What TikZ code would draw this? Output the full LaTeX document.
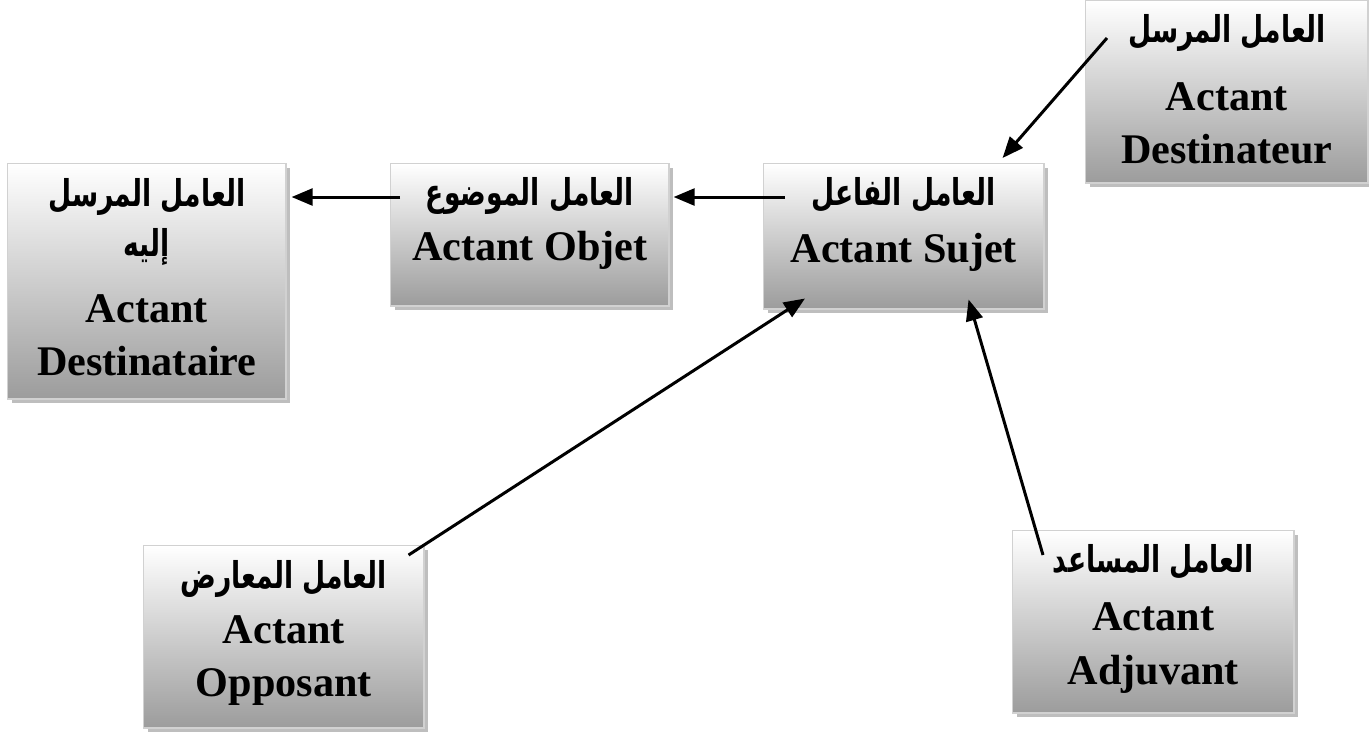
\documentclass[tikz,border=0pt]{standalone}
\usepackage{fontspec}
\setmainfont{Liberation Serif}
\newfontfamily\arabicfont[Script=Arabic, FakeStretch=0.72]{DejaVu Sans}
\TeXXeTstate=1
\usetikzlibrary{arrows.meta,shadows}
\definecolor{boxtop}{HTML}{FFFFFF}
\definecolor{boxmid}{HTML}{E2E2E2}
\definecolor{boxbot}{HTML}{9C9C9C}
\definecolor{shade}{HTML}{BEBEBE}
\newcommand{\artext}[1]{{\arabicfont\bfseries\fontsize{10.5}{15.1}\selectfont\beginR #1\endR}}
\newcommand{\actbox}[3]{\parbox[c][#1][t]{#2}{\centering\fontsize{12}{15.1}\selectfont\bfseries #3}}

\begin{document}
\begin{tikzpicture}[x=0.01cm, y=-0.01cm,
  actant/.style={draw=black!18, line width=0.4pt, inner sep=0pt, anchor=north west,
    top color=boxtop, middle color=boxmid, bottom color=boxbot,
    drop shadow={shadow xshift=0.04cm, shadow yshift=-0.04cm, fill=shade, opacity=1}},
  link/.style={line width=0.85pt, -{Triangle[length=6pt,width=4.8pt]}}]
\useasboundingbox (0,0) rectangle (1369,732);
\node[actant] (receiver) at (7,163) {\actbox{2.35cm}{2.78cm}{\rule{0pt}{12.3pt}\artext{العامل المرسل}\\[-0.9pt] \artext{إليه}\\[3.6pt] Actant\\ Destinataire}};
\node[actant] (object) at (390,163) {\actbox{1.42cm}{2.78cm}{\rule{0pt}{11.8pt}\artext{العامل الموضوع}\\[0.6pt] Actant Objet}};
\node[actant] (subject) at (763,163) {\actbox{1.45cm}{2.80cm}{\rule{0pt}{11.8pt}\artext{العامل الفاعل}\\[1.1pt] Actant Sujet}};
\node[actant] (sender) at (1085,0) {\actbox{1.82cm}{2.82cm}{\rule{0pt}{11.8pt}\artext{العامل المرسل}\\[4.4pt] Actant\\ Destinateur}};
\node[actant] (opponent) at (143,545) {\actbox{1.82cm}{2.80cm}{\rule{0pt}{12.3pt}\artext{العامل المعارض}\\[0.4pt] Actant\\ Opposant}};
\node[actant] (helper) at (1012,530) {\actbox{1.82cm}{2.81cm}{\rule{0pt}{11.8pt}\artext{العامل المساعد}\\[1.6pt] Actant\\ Adjuvant}};
\draw[link] ([shift={(22,38)}]sender.north west) -- ([shift={(-42,-5)}]subject.north east);
\draw[link] ([shift={(22,34)}]subject.north west) -- ([shift={(4,34)}]object.north east);
\draw[link] ([shift={(10,34)}]object.north west) -- ([shift={(5,34)}]receiver.north east);
\draw[link] ([shift={(-16,10)}]opponent.north east) -- ([shift={(42,-11)}]subject.south west);
\draw[link] ([shift={(31,25)}]helper.north west) -- ([shift={(-76,-10)}]subject.south east);
\end{tikzpicture}
\end{document}
